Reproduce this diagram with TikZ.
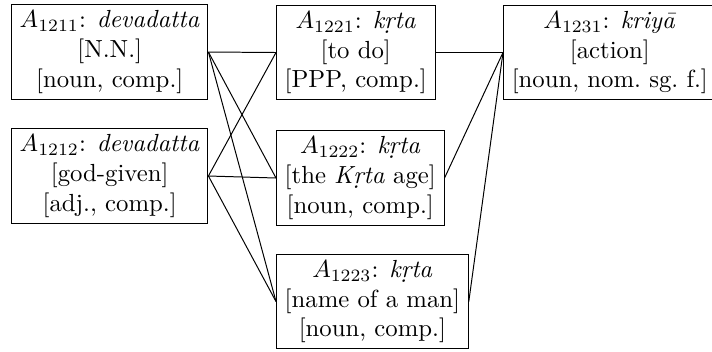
\documentclass[tikz,border=0pt]{standalone}
\begin{document}
\begin{tikzpicture}[x=0.40404pt,y=-0.40404pt,
  wbox/.style={draw, align=center, anchor=west, inner ysep=2.3pt},
  link/.style={draw}]
\useasboundingbox (0,0) rectangle (712,351);
\node[wbox] (a1) at (11,52) {$A_{1211}$: \textit{devadatta}\\{}[N.N.]\\{}[noun, comp.]};
\node[wbox] (a2) at (11,176) {$A_{1212}$: \textit{devadatta}\\{}[god-given]\\{}[adj., comp.]};
\node[wbox] (b1) at (276,52.5) {$A_{1221}$: \textit{k\d{r}ta}\\{}[to do]\\{}[PPP, comp.]};
\node[wbox] (b2) at (276,178) {$A_{1222}$: \textit{k\d{r}ta}\\{}[the \textit{K\d{r}ta} age]\\{}[noun, comp.]};
\node[wbox] (b3) at (276,301.5) {$A_{1223}$: \textit{k\d{r}ta}\\{}[name of a man]\\{}[noun, comp.]};
\node[wbox] (c1) at (503,52.5) {$A_{1231}$: \textit{kriy\={a}}\\{}[action]\\{}[noun, nom.\ sg.\ f.]};
\foreach \s in {a1,a2}{
  \foreach \t in {b1,b2,b3}{
    \draw[link] (\s.east) -- (\t.west);
  }
}
\foreach \s in {b1,b2,b3}{
  \draw[link] (\s.east) -- (c1.west);
}
\end{tikzpicture}
\end{document}
